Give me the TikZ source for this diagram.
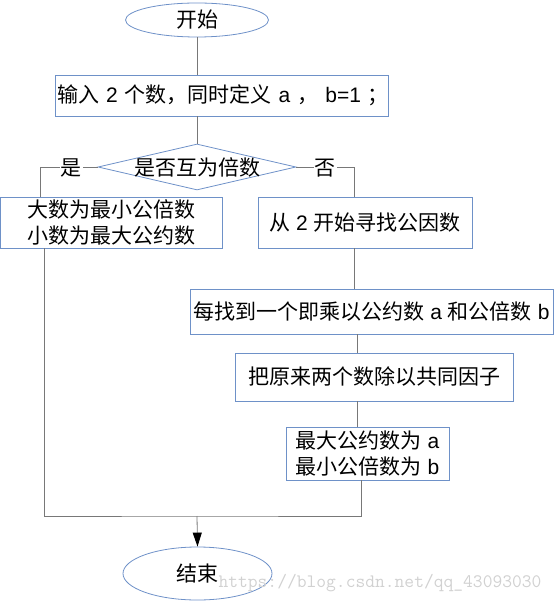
\documentclass[tikz,border=0pt]{standalone}
\usepackage{fontspec}
\setmainfont{Noto Sans CJK SC}
\newfontfamily\latin{Liberation Sans}
\usetikzlibrary{shapes.geometric,arrows.meta}
\definecolor{boxblue}{RGB}{110,145,200}
\definecolor{linegray}{RGB}{120,120,120}
\begin{document}
\begin{tikzpicture}[x=1pt,y=-1pt,>={Triangle[length=14pt,width=9pt,color=black]},
    every node/.style={font=\fontsize{21}{25.5}\selectfont},
    term/.style={ellipse,draw=boxblue,line width=0.8pt,inner sep=0pt},
    proc/.style={rectangle,draw=boxblue,line width=0.8pt,inner sep=0pt,align=center},
    judge/.style={diamond,draw=boxblue,line width=0.8pt,inner sep=0pt},
    conn/.style={draw=linegray,line width=0.8pt},
    yesno/.style={fill=white,inner sep=1pt}]
    \useasboundingbox (0,0) rectangle (554,601);
    \node[term,minimum width=143pt,minimum height=34pt] (start) at (197,20) {开始};
    \node[proc,minimum height=41pt,text width=329pt,inner xsep=2pt,align=left] (input) at (221.5,95.5)
        {\mbox{输入{\latin\ 2\ }个数，同时定义{\latin\ a\ }，{\latin\ b=1\ }；}};
    \node[judge,minimum width=198pt,minimum height=46pt] (judge) at (197,167) {\makebox[0pt]{是否互为倍数}};
    \node[proc,minimum width=222pt,minimum height=51pt] (big) at (111,222.5) {大数为最小公倍数\\小数为最大公约数};
    \node[proc,minimum width=214pt,minimum height=51pt] (cong) at (365,222.5) {从{\latin\ 2\ }开始寻找公因数};
    \node[proc,minimum width=363pt,minimum height=45pt] (mei) at (371.5,311.5) {每找到一个即乘以公约数{\latin\ a\ }和公倍数{\latin\ b}};
    \node[proc,minimum width=278pt,minimum height=48pt] (ba) at (374,377) {把原来两个数除以共同因子};
    \node[proc,minimum width=163pt,minimum height=53pt] (zui) at (367.5,453.5) {最大公约数为{\latin\ a}\\最小公倍数为{\latin\ b}};
    \node[term,minimum width=149pt,minimum height=53pt] (end) at (197.5,573.5) {结束};
    \coordinate (join) at (197,516);
    % connectors
    \draw[conn] (start.south) -- (start.south |- input.north);
    \draw[conn] (input.south -| judge.north) -- (judge.north);
    \draw[conn] (judge.west) -| ([xshift=-71pt]big.north);
    \draw[conn] (judge.east) -| ([xshift=-11pt]cong.north);
    \draw[conn] ([xshift=-11pt]cong.south) -- ([xshift=-11pt]cong.south |- mei.north);
    \draw[conn] ([xshift=-14.5pt]mei.south) -- ([xshift=-14.5pt]mei.south |- ba.north);
    \draw[conn] ([xshift=-17pt]ba.south) -- ([xshift=-17pt]ba.south |- zui.north);
    \draw[conn] ([xshift=-67pt]big.south) |- (join) -| ([xshift=-6.5pt]zui.south);
    \draw[conn,->] (join) -- (end.north);
    \node[yesno] (yes) at (71,168) {是};
    \node[yesno] (no) at (325,168) {否};
    \node[text=black!18,font=\fontsize{19}{19}\selectfont\ttfamily] (wmark) at (380,583) {https://blog.csdn.net/qq\_43093030};
\end{tikzpicture}
\end{document}
